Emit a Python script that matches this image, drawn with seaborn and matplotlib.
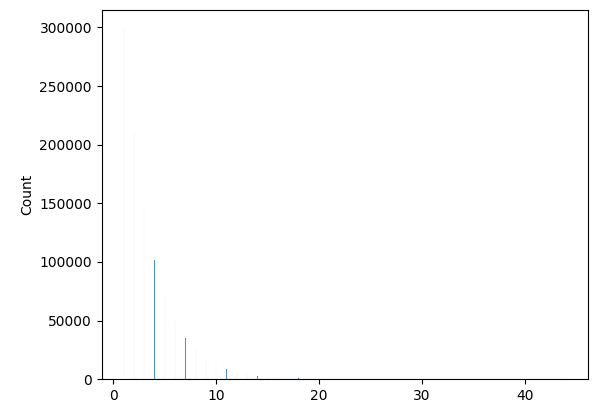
import matplotlib
matplotlib.use("Agg")
import matplotlib.pyplot as plt
import seaborn as sns

# distinct values and how often each occurs
values = list(range(1, 45))
counts = [300000, 210000, 146000, 102000, 71000, 50000, 35000, 25000, 17000, 12000,
          8500, 6000, 4200, 3000, 2100, 1500, 1000, 700, 500, 350,
          250, 170, 120, 85, 60, 42, 30, 21, 15, 10,
          7, 5, 4, 3, 2, 2, 1, 1, 1, 1,
          1, 1, 1, 1]

fig, ax = plt.subplots(figsize=(5.98, 4.13), dpi=100)
sns.histplot(x=values, weights=counts, bins=1500, ax=ax)
ax.set_ylabel("Count")
fig.subplots_adjust(left=0.17, right=0.983, top=0.976, bottom=0.082)
fig.savefig("out.png")
